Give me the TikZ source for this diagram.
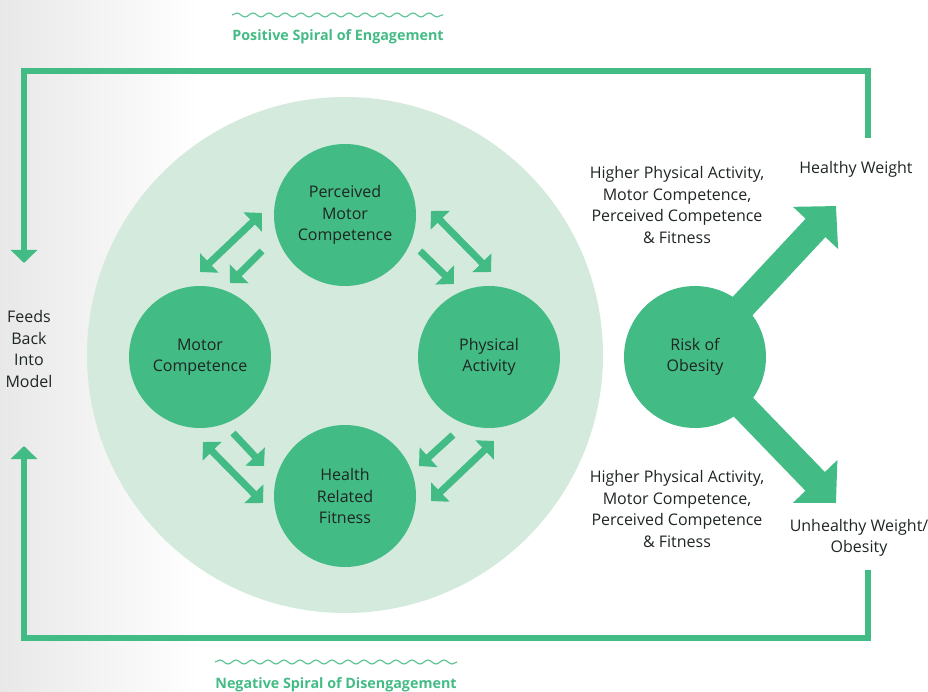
\documentclass[tikz,border=0pt]{standalone}
\usepackage{fontspec}
\setmainfont{Open Sans}
\usetikzlibrary{arrows.meta,decorations.pathmorphing}

\definecolor{grn}{HTML}{43BB85}
\definecolor{pale}{HTML}{D3EADD}
\definecolor{ink}{HTML}{1E2622}

\begin{document}
\begin{tikzpicture}[
  x=1pt, y=-1pt,
  font=\fontsize{16}{21.5}\selectfont,
  bub/.style={circle, fill=grn, minimum size=142pt, inner sep=0pt, align=center, text=ink},
  lbl/.style={align=center, text=ink},
  ttl/.style={font=\fontsize{14.3}{17}\selectfont\bfseries, text=grn},
  fr/.style={-{Triangle[length=13pt,width=26pt]}, draw=grn, line width=6.5pt},
  sgl/.style={-{Triangle[length=13pt,width=26pt]}, draw=grn, line width=7pt},
  dbl/.style={{Triangle[length=13pt,width=26pt]}-{Triangle[length=13pt,width=26pt]}, draw=grn, line width=7pt},
  fat/.style={-{Triangle[length=30pt,width=60pt]}, draw=grn, line width=27pt},
  wav/.style={draw=grn!85, line width=1.2pt, decorate,
              decoration={snake, segment length=16pt, amplitude=2pt}}
]
\useasboundingbox (0,0) rectangle (928,692);
\shade[left color=black!9, right color=white] (0,0) rectangle (200,692);

% outer loop
\coordinate (tr0) at (868,138);
\coordinate (tr)  at (868,71);
\coordinate (tl)  at (24,71);
\coordinate (dn)  at (24,263);
\coordinate (br0) at (868,570);
\coordinate (br)  at (868,638);
\coordinate (bl)  at (24,638);
\coordinate (up)  at (24,446);
\draw[fr] (tr0) -- (tr) -- (tl) -- (dn);
\draw[fr] (br0) -- (br) -- (bl) -- (up);

\node[lbl] (fb) at (29,349) {Feeds\\Back\\Into\\Model};

% spiral titles
\coordinate (w1) at (232,15);
\coordinate (w2) at (443,15);
\draw[wav] (w1) -- (w2);
\node[ttl] (pos) at (338,37) {Positive Spiral of Engagement};
\coordinate (w3) at (215,662);
\coordinate (w4) at (457,662);
\draw[wav] (w3) -- (w4);
\node[ttl] (neg) at (336,685) {Negative Spiral of Disengagement};

% model
\node[circle, fill=pale, minimum size=516pt] (disc) at (345,355) {};
\node[bub] (pmc) at (345,215) {Perceived\\Motor\\Competence};
\node[bub] (mc)  at (200,357) {Motor\\Competence};
\node[bub] (pa)  at (489,357) {Physical\\Activity};
\node[bub] (hrf) at (345,496) {Health\\Related\\Fitness};

\coordinate (ul1) at (200,272);  \coordinate (ul2) at (262,213);
\coordinate (ul3) at (262,251);  \coordinate (ul4) at (230,283);
\coordinate (ur1) at (431,211);  \coordinate (ur2) at (491,272);
\coordinate (ur3) at (420,251);  \coordinate (ur4) at (454,284);
\coordinate (ll1) at (203,442);  \coordinate (ll2) at (263,503);
\coordinate (ll3) at (233,433);  \coordinate (ll4) at (264,466);
\coordinate (lr1) at (494,441);  \coordinate (lr2) at (431,501);
\coordinate (lr3) at (453,435);  \coordinate (lr4) at (419,466);

\draw[dbl] (ul1) -- (ul2);
\draw[sgl] (ul3) -- (ul4);
\draw[dbl] (ur1) -- (ur2);
\draw[sgl] (ur3) -- (ur4);
\draw[dbl] (ll1) -- (ll2);
\draw[sgl] (ll3) -- (ll4);
\draw[dbl] (lr1) -- (lr2);
\draw[sgl] (lr3) -- (lr4);

% outcome
\coordinate (rc) at (695,357);
\coordinate (hw) at (836,206);
\coordinate (uw) at (836,503);
\draw[fat] (rc) -- (hw);
\draw[fat] (rc) -- (uw);
\node[bub] (risk) at (rc) {Risk of\\Obesity};

\node[lbl] (hi1) at (677,205) {Higher Physical Activity,\\Motor Competence,\\Perceived Competence\\\& Fitness};
\node[lbl] (hi2) at (677,509) {Higher Physical Activity,\\Motor Competence,\\Perceived Competence\\\& Fitness};
\node[lbl] (hwl) at (856,169) {Healthy Weight};
\node[lbl] (uwl) at (859,538) {Unhealthy Weight/\\Obesity};
\end{tikzpicture}
\end{document}
